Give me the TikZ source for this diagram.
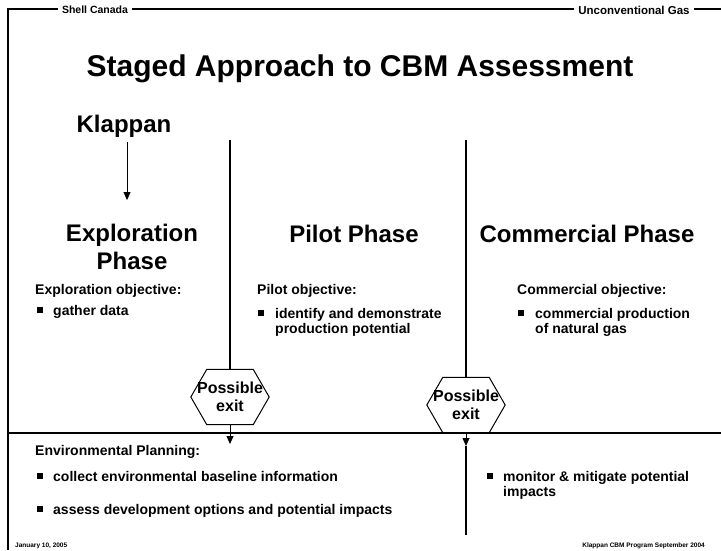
\documentclass[tikz,border=0pt]{standalone}
\usepackage{fontspec}
\setmainfont{Liberation Sans}
\usepackage{tikz}
\usetikzlibrary{shapes.geometric, arrows.meta}

\begin{document}
\begin{tikzpicture}[x=1pt, y=-1pt, font=\bfseries,
    head/.style={font=\fontsize{10.5}{12}\selectfont\bfseries, fill=white, inner sep=4pt},
    phase/.style={font=\fontsize{24}{28}\selectfont\bfseries, anchor=base, align=center, inner sep=2pt},
    body/.style={font=\fontsize{14}{15}\selectfont\bfseries, anchor=base west, align=left, inner sep=0pt},
    bullet/.style={fill=black, minimum size=6pt, inner sep=0pt},
    exitbox/.style={minimum width=78pt, minimum height=55pt, inner sep=0pt,
                    font=\fontsize{16}{18}\selectfont\bfseries, align=center},
    foot/.style={font=\fontsize{6.5}{7}\selectfont\bfseries, anchor=base, inner sep=0pt},
    sepline/.style={line width=1.2pt},
    tip/.style={-{Triangle[length=8pt,width=7pt]}}]
    \useasboundingbox (0,0) rectangle (721,550);

    % frame and header
    \coordinate (frameTop) at (8,9);
    \coordinate (frameRight) at (721,9);
    \coordinate (frameBottom) at (8,550);
    \draw[line width=1.8pt] (frameBottom) -- (frameTop) -- (frameRight);
    \node[head] (shell) at (95,10) {Shell Canada};
    \node[head, font=\fontsize{11.5}{12}\selectfont\bfseries] (ugas) at (634,10) {Unconventional Gas};

    \node[font=\fontsize{30}{34}\selectfont\bfseries, anchor=base] (title) at (360,76)
        {Staged Approach to CBM Assessment};

    % phases
    \node[phase] (klappan) at (124,132) {Klappan};
    \coordinate (kArrowEnd) at (127,200);
    \draw[tip] ([yshift=-3pt]klappan.south -| kArrowEnd) -- (kArrowEnd);

    \node[phase, anchor=north] (explore) at (132,222) {Exploration\\Phase};
    \node[phase] (pilot) at (354,242) {Pilot Phase};
    \node[phase] (commercial) at (587,242) {Commercial Phase};

    % objectives
    \node[body] (exObj) at (35,294) {Exploration objective:};
    \node[bullet] (exB1) at (40,310) {};
    \node[body] (exT1) at (53,315) {gather data};

    \node[body] (piObj) at (257,294) {Pilot objective:};
    \node[bullet] (piB1) at (261,313) {};
    \node[body] (piT1) at (275,333) {identify and demonstrate\\production potential};

    \node[body] (coObj) at (517,294) {Commercial objective:};
    \node[bullet] (coB1) at (521,313) {};
    \node[body] (coT1) at (535,333) {commercial production\\of natural gas};

    % exits
    \node[exitbox] (hexA) at (230,397) {Possible\\exit};
    \node[exitbox] (hexB) at (466,405) {Possible\\exit};
    \foreach \h in {hexA, hexB}
        \draw[line width=1pt] (\h.west) -- ([xshift=16pt]\h.north west) -- ([xshift=-16pt]\h.north east)
            -- (\h.east) -- ([xshift=-16pt]\h.south east) -- ([xshift=16pt]\h.south west) -- cycle;

    \coordinate (lineAtop) at (230,140);
    \coordinate (lineBtop) at (466,140);
    \draw[sepline] (lineAtop) -- (hexA.north);
    \draw[sepline] (lineBtop) -- (hexB.north);

    \coordinate (planLeft) at (8,433);
    \coordinate (planRight) at (721,433);
    \draw[line width=1.6pt] (planLeft) -- (planRight);

    \coordinate (exitA) at (230,444);
    \coordinate (exitB) at (466,446);
    \coordinate (lineBend) at (466,535);
    \draw[tip, line width=0.8pt] (hexA.south) -- (exitA);
    \draw[tip, line width=0.8pt] (hexB.south) -- (exitB);
    \draw[sepline] (exitB) -- (lineBend);

    % environmental planning
    \node[body] (envHead) at (35,455) {Environmental Planning:};
    \node[bullet] (envB1) at (40,476) {};
    \node[body] (envT1) at (53,481) {collect environmental baseline information};
    \node[bullet] (envB2) at (40,509) {};
    \node[body] (envT2) at (53,514) {assess development options and potential impacts};
    \node[bullet] (envB3) at (490,476) {};
    \node[body] (envT3) at (503,496) {monitor \& mitigate potential\\impacts};

    % footer
    \node[foot, anchor=base west] (date) at (15,547) {January 10, 2005};
    \node[foot, anchor=base east] (program) at (705,547) {Klappan CBM Program September 2004};
\end{tikzpicture}
\end{document}
